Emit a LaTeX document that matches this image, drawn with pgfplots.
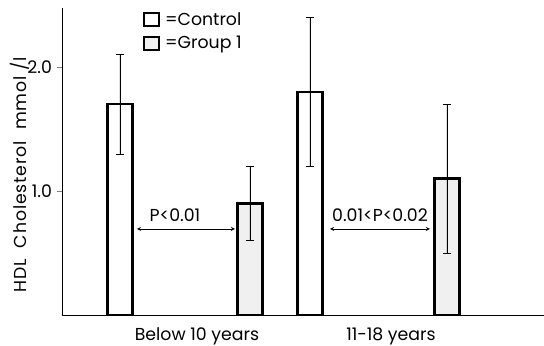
\documentclass[border=0pt]{standalone}
\usepackage{pgfplots}
\pgfplotsset{compat=1.18}
\usepackage{fontspec}
\setmainfont{Poppins}
\begin{document}
\begin{tikzpicture}
\begin{axis}[
  scale only axis,
  width=362pt, height=230.5pt,
  xmin=0, xmax=482, ymin=0, ymax=2.476,
  axis x line=bottom, axis y line=left,
  axis line style={-, line width=0.5pt, black},
  xtick={135,329},
  xticklabels={Below 10 years, 11-18 years},
  x tick style={draw=none},
  xticklabel style={anchor=base, yshift=-15.5pt, inner sep=0pt},
  ytick={1,2},
  yticklabels={1.0,2.0},
  tick align=outside,
  major tick length=4pt,
  /pgf/number format/assume math mode=true,
  tick label style={font=\fontsize{13}{15}\selectfont},
  ylabel={HDL\ \ Cholesterol\ \ mmol /l},
  ylabel style={font=\fontsize{13}{15}\selectfont\addfontfeatures{LetterSpace=5},
    at={(axis description cs:-0.087,0.456)}, anchor=center},
  bar width=25,
  legend style={at={(rel axis cs:0.165,1.0)}, anchor=north west, draw=none, fill=none,
    font=\fontsize{13}{15}\selectfont, row sep=3pt, inner sep=1pt},
  legend cell align=left,
  legend image code/.code={\draw[#1, line width=1.4pt] (0pt,-5pt) rectangle (11pt,5pt); \path (13pt,0pt);},
  clip=false,
]
\addplot[ybar, draw=black, line width=1.8pt, fill=white,
  error bars/.cd, y dir=both, y explicit,
  error bar style={line width=0.4pt, black},
  error mark options={rotate=90, mark size=3.2pt, line width=0.4pt}]
  coordinates {(58,1.7) +- (0,0.4) (248,1.8) +- (0,0.6)};
\addlegendentry{=Control}
\addplot[ybar, draw=black, line width=1.8pt, fill=gray!12,
  error bars/.cd, y dir=both, y explicit,
  error bar style={line width=0.4pt, black},
  error mark options={rotate=90, mark size=3.2pt, line width=0.4pt}]
  coordinates {(188,0.9) +- (0,0.3) (385,1.1) +- (0,0.6)};
\addlegendentry{=Group 1}
\draw[line width=0.5pt] (axis cs:0,0) -- (axis cs:482,0);
\draw[<->, >=stealth, line width=0.4pt] (axis cs:75,0.694) -- (axis cs:173,0.694);
\node[font=\fontsize{13}{15}\selectfont, anchor=base] at (axis cs:113,0.755) {P<0.01};
\draw[<->, >=stealth, line width=0.4pt] (axis cs:268,0.694) -- (axis cs:368,0.694);
\node[font=\fontsize{13}{15}\selectfont, anchor=base] at (axis cs:318,0.755) {0.01<P<0.02};
\end{axis}
\pgfresetboundingbox
\path ([xshift=-46.5pt,yshift=-23.2pt]current axis.south west) rectangle ([yshift=6pt]current axis.north east);
\end{tikzpicture}
\end{document}
